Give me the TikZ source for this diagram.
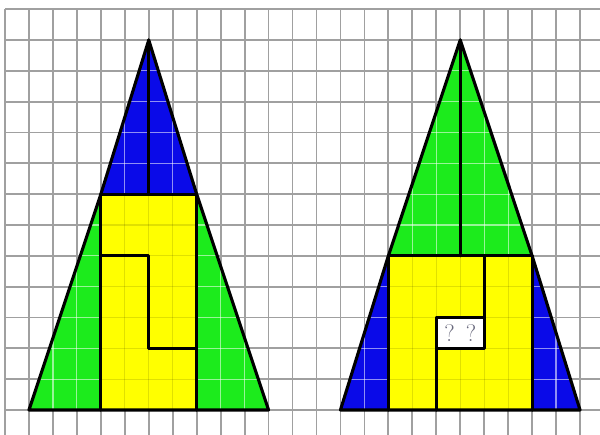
\documentclass[tikz,border=0pt]{standalone}
\definecolor{pblue}{RGB}{10,10,232}
\definecolor{pgreen}{RGB}{28,235,28}
\definecolor{pyellow}{RGB}{255,255,0}
\definecolor{gridgray}{RGB}{160,160,160}
\definecolor{qgray}{RGB}{105,105,125}
\begin{document}
\begin{tikzpicture}[x=1pt,y=1pt,
  outl/.style={line width=3.1pt, line join=round, line cap=round},
  gline/.style={gridgray, line width=1.8pt},
  lline/.style={white, opacity=0.55, line width=1.2pt},
  yline/.style={black, opacity=0.12, line width=1.2pt},
  qmark/.style={text=qgray, font=\fontsize{24}{24}\selectfont, inner sep=0pt}]
\fill[white] (0,0) rectangle (600,435);
\useasboundingbox (0,0) rectangle (600,435);
\begin{scope}[shift={(5pt,425.8pt)}, x=23.96pt, y=-30.83pt]
  % background grid
  \foreach \i in {0,...,24} \draw[gline] (\i,0) -- (\i,13.85);
  \foreach \j in {0,...,13} \draw[gline] (0,\j) -- (24.9,\j);
  % left figure fills
  \fill[pblue] (6,1) -- (4,6) -- (8,6) -- cycle;
  \fill[pgreen] (4,6) -- (1,13) -- (4,13) -- cycle;
  \fill[pgreen] (8,6) -- (8,13) -- (11,13) -- cycle;
  \fill[pyellow] (4,6) rectangle (8,13);
  % right figure fills
  \fill[pgreen] (19,1) -- (16,8) -- (22,8) -- cycle;
  \fill[pblue] (16,8) -- (14,13) -- (16,13) -- cycle;
  \fill[pblue] (22,8) -- (22,13) -- (24,13) -- cycle;
  \fill[pyellow] (16,8) rectangle (22,13);
  % light grid on blue / green
  \begin{scope}
    \clip (6,1) -- (4,6) -- (8,6) -- cycle
          (4,6) -- (1,13) -- (4,13) -- cycle
          (8,6) -- (8,13) -- (11,13) -- cycle
          (19,1) -- (16,8) -- (22,8) -- cycle
          (16,8) -- (14,13) -- (16,13) -- cycle
          (22,8) -- (22,13) -- (24,13) -- cycle;
    \foreach \i in {0,...,24} \draw[lline] (\i,0) -- (\i,13.85);
    \foreach \j in {0,...,13} \draw[lline] (0,\j) -- (24.9,\j);
  \end{scope}
  % faint grid on yellow
  \begin{scope}
    \clip (4,6) rectangle (8,13) (16,8) rectangle (22,13);
    \foreach \i in {0,...,24} \draw[yline] (\i,0) -- (\i,13.85);
    \foreach \j in {0,...,13} \draw[yline] (0,\j) -- (24.9,\j);
  \end{scope}
  % hole
  \fill[white] (18,10) rectangle (20,11);
  \node[qmark] (q1) at (18.55,10.52) {?};
  \node[qmark] (q2) at (19.45,10.52) {?};
  % left outlines
  \draw[outl] (6,1) -- (4,6) -- (1,13) -- (11,13) -- (8,6) -- cycle;
  \draw[outl] (4,6) -- (8,6);
  \draw[outl] (4,6) -- (4,13);
  \draw[outl] (8,6) -- (8,13);
  \draw[outl] (6,1) -- (6,6);
  \draw[outl] (4,8) -- (6,8) -- (6,11) -- (8,11);
  % right outlines
  \draw[outl] (19,1) -- (16,8) -- (14,13) -- (24,13) -- (22,8) -- cycle;
  \draw[outl] (16,8) -- (22,8);
  \draw[outl] (16,8) -- (16,13);
  \draw[outl] (22,8) -- (22,13);
  \draw[outl] (19,1) -- (19,8);
  \draw[outl] (20,8) -- (20,10) -- (18,10) -- (18,13);
  \draw[outl] (18,10) rectangle (20,11);
\end{scope}
\end{tikzpicture}
\end{document}
